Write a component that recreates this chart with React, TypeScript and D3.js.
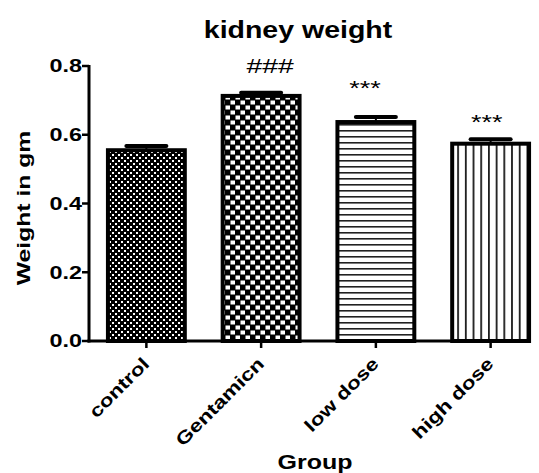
import { useEffect, useRef } from "react";
import * as d3 from "d3";

const groups = ["control", "Gentamicn", "low dose", "high dose"];
const means = [0.555, 0.713, 0.637, 0.574];
const sems = [0.012, 0.009, 0.015, 0.013];
const marks = ["", "###", "***", "***"];
const markLevels = [0, 0.78, 0.716, 0.617];
const markShift = [0, 9, -11, -4];
const yTicks = [0, 0.2, 0.4, 0.6, 0.8];
const patterns = ["fine", "check", "hlines", "vlines"];

const FONT = "'Liberation Sans', Arial, sans-serif";

export default function App() {
  const ref = useRef<SVGSVGElement>(null);
  const width = 539;
  const height = 473;

  useEffect(() => {
    const svg = d3.select(ref.current);
    svg.selectAll("*").remove();

    const x = d3
      .scaleBand()
      .domain(groups)
      .range([89, 548])
      .paddingInner(0.33)
      .paddingOuter(0.165);

    const y = d3.scaleLinear().domain([0, 0.8]).range([341, 66]);

    // fill patterns
    const defs = svg.append("defs");
    const fine = defs
      .append("pattern")
      .attr("id", "fine")
      .attr("patternUnits", "userSpaceOnUse")
      .attr("width", 6)
      .attr("height", 6);
    fine.append("rect").attr("width", 6).attr("height", 6).attr("fill", "#000");
    fine.append("rect").attr("x", 1).attr("y", 1).attr("width", 2).attr("height", 2).attr("fill", "#fff");
    fine.append("rect").attr("x", 4).attr("y", 4).attr("width", 2).attr("height", 2).attr("fill", "#fff");

    const check = defs
      .append("pattern")
      .attr("id", "check")
      .attr("patternUnits", "userSpaceOnUse")
      .attr("width", 10)
      .attr("height", 10);
    check.append("rect").attr("width", 10).attr("height", 10).attr("fill", "#000");
    check.append("rect").attr("x", 0.5).attr("y", 0.5).attr("width", 4.5).attr("height", 4).attr("fill", "#fff");
    check.append("rect").attr("x", 5.5).attr("y", 5.5).attr("width", 4.5).attr("height", 4).attr("fill", "#fff");

    const hl = defs
      .append("pattern")
      .attr("id", "hlines")
      .attr("patternUnits", "userSpaceOnUse")
      .attr("width", 6)
      .attr("height", 6);
    hl.append("rect").attr("width", 6).attr("height", 6).attr("fill", "#fff");
    hl.append("rect").attr("y", 4).attr("width", 6).attr("height", 1.6).attr("fill", "#222");

    const vl = defs
      .append("pattern")
      .attr("id", "vlines")
      .attr("patternUnits", "userSpaceOnUse")
      .attr("width", 7.7)
      .attr("height", 8);
    vl.append("rect").attr("width", 7.7).attr("height", 8).attr("fill", "#fff");
    vl.append("rect").attr("x", 3).attr("width", 1.6).attr("height", 8).attr("fill", "#000");

    // bars
    const bw = x.bandwidth();
    groups.forEach((g, i) => {
      const cx = (x(g) ?? 0) + bw / 2;
      svg
        .append("line")
        .attr("x1", cx)
        .attr("x2", cx)
        .attr("y1", y(means[i]))
        .attr("y2", y(means[i] + sems[i]))
        .attr("stroke", "#000")
        .attr("stroke-width", 2);
      svg
        .append("line")
        .attr("x1", cx - 20)
        .attr("x2", cx + 20)
        .attr("y1", y(means[i] + sems[i]))
        .attr("y2", y(means[i] + sems[i]))
        .attr("stroke", "#000")
        .attr("stroke-width", 4)
        .attr("stroke-linecap", "round");
      svg
        .append("rect")
        .attr("x", x(g) ?? 0)
        .attr("y", y(means[i]))
        .attr("width", bw)
        .attr("height", y(0) - y(means[i]))
        .attr("fill", `url(#${patterns[i]})`)
        .attr("stroke", "#000")
        .attr("stroke-width", 4);
      if (marks[i]) {
        svg
          .append("text")
          .attr("transform", `translate(${cx + markShift[i]},${y(markLevels[i])}) scale(1.35,1)`)
          .attr("text-anchor", "middle")
          .attr("font-family", FONT)
          .attr("font-size", marks[i] === "###" ? 21 : 20)
          .attr("fill", "#000")
          .text(marks[i]);
      }
    });

    // y axis
    const ya = svg.append("g").attr("font-family", FONT);
    ya.append("line")
      .attr("x1", 89)
      .attr("x2", 89)
      .attr("y1", y(0.8) - 1)
      .attr("y2", y(0) + 1.5)
      .attr("stroke", "#000")
      .attr("stroke-width", 3);
    yTicks.forEach((t) => {
      ya.append("line")
        .attr("x1", 82)
        .attr("x2", 89)
        .attr("y1", y(t))
        .attr("y2", y(t))
        .attr("stroke", "#000")
        .attr("stroke-width", 2.5);
      ya.append("text")
        .attr("transform", `translate(82,${y(t)}) scale(1.3,1)`)
        .attr("dy", "0.36em")
        .attr("text-anchor", "end")
        .attr("font-size", 18)
        .attr("font-weight", "bold")
        .text(d3.format(".1f")(t));
    });

    // x axis
    const xa = svg.append("g").attr("font-family", FONT);
    xa.append("line")
      .attr("x1", 87.5)
      .attr("x2", 531)
      .attr("y1", y(0))
      .attr("y2", y(0))
      .attr("stroke", "#000")
      .attr("stroke-width", 3);
    groups.forEach((g) => {
      const cx = (x(g) ?? 0) + bw / 2;
      xa.append("line")
        .attr("x1", cx)
        .attr("x2", cx)
        .attr("y1", y(0))
        .attr("y2", y(0) + 7)
        .attr("stroke", "#000")
        .attr("stroke-width", 2.5);
      xa.append("text")
        .attr("transform", `translate(${cx + 4},${y(0) + 24}) rotate(-45) scale(1.25,1)`)
        .attr("text-anchor", "end")
        .attr("font-size", 18)
        .attr("font-weight", "bold")
        .text(g);
    });

    // titles
    svg
      .append("text")
      .attr("transform", "translate(298,38) scale(1.24,1)")
      .attr("text-anchor", "middle")
      .attr("font-family", FONT)
      .attr("font-size", 23)
      .attr("font-weight", "bold")
      .text("kidney weight");

    svg
      .append("text")
      .attr("transform", "translate(315,469) scale(1.25,1)")
      .attr("text-anchor", "middle")
      .attr("font-family", FONT)
      .attr("font-size", 20)
      .attr("font-weight", "bold")
      .text("Group");

    svg
      .append("text")
      .attr("transform", "translate(30,208) rotate(-90) scale(1.3,1)")
      .attr("text-anchor", "middle")
      .attr("font-family", FONT)
      .attr("font-size", 19)
      .attr("font-weight", "bold")
      .text("Weight in gm");
  }, []);

  return (
    <svg
      ref={ref}
      width={width}
      height={height}
      style={{ position: "absolute", left: 0, top: 0, background: "#fff" }}
    />
  );
}
